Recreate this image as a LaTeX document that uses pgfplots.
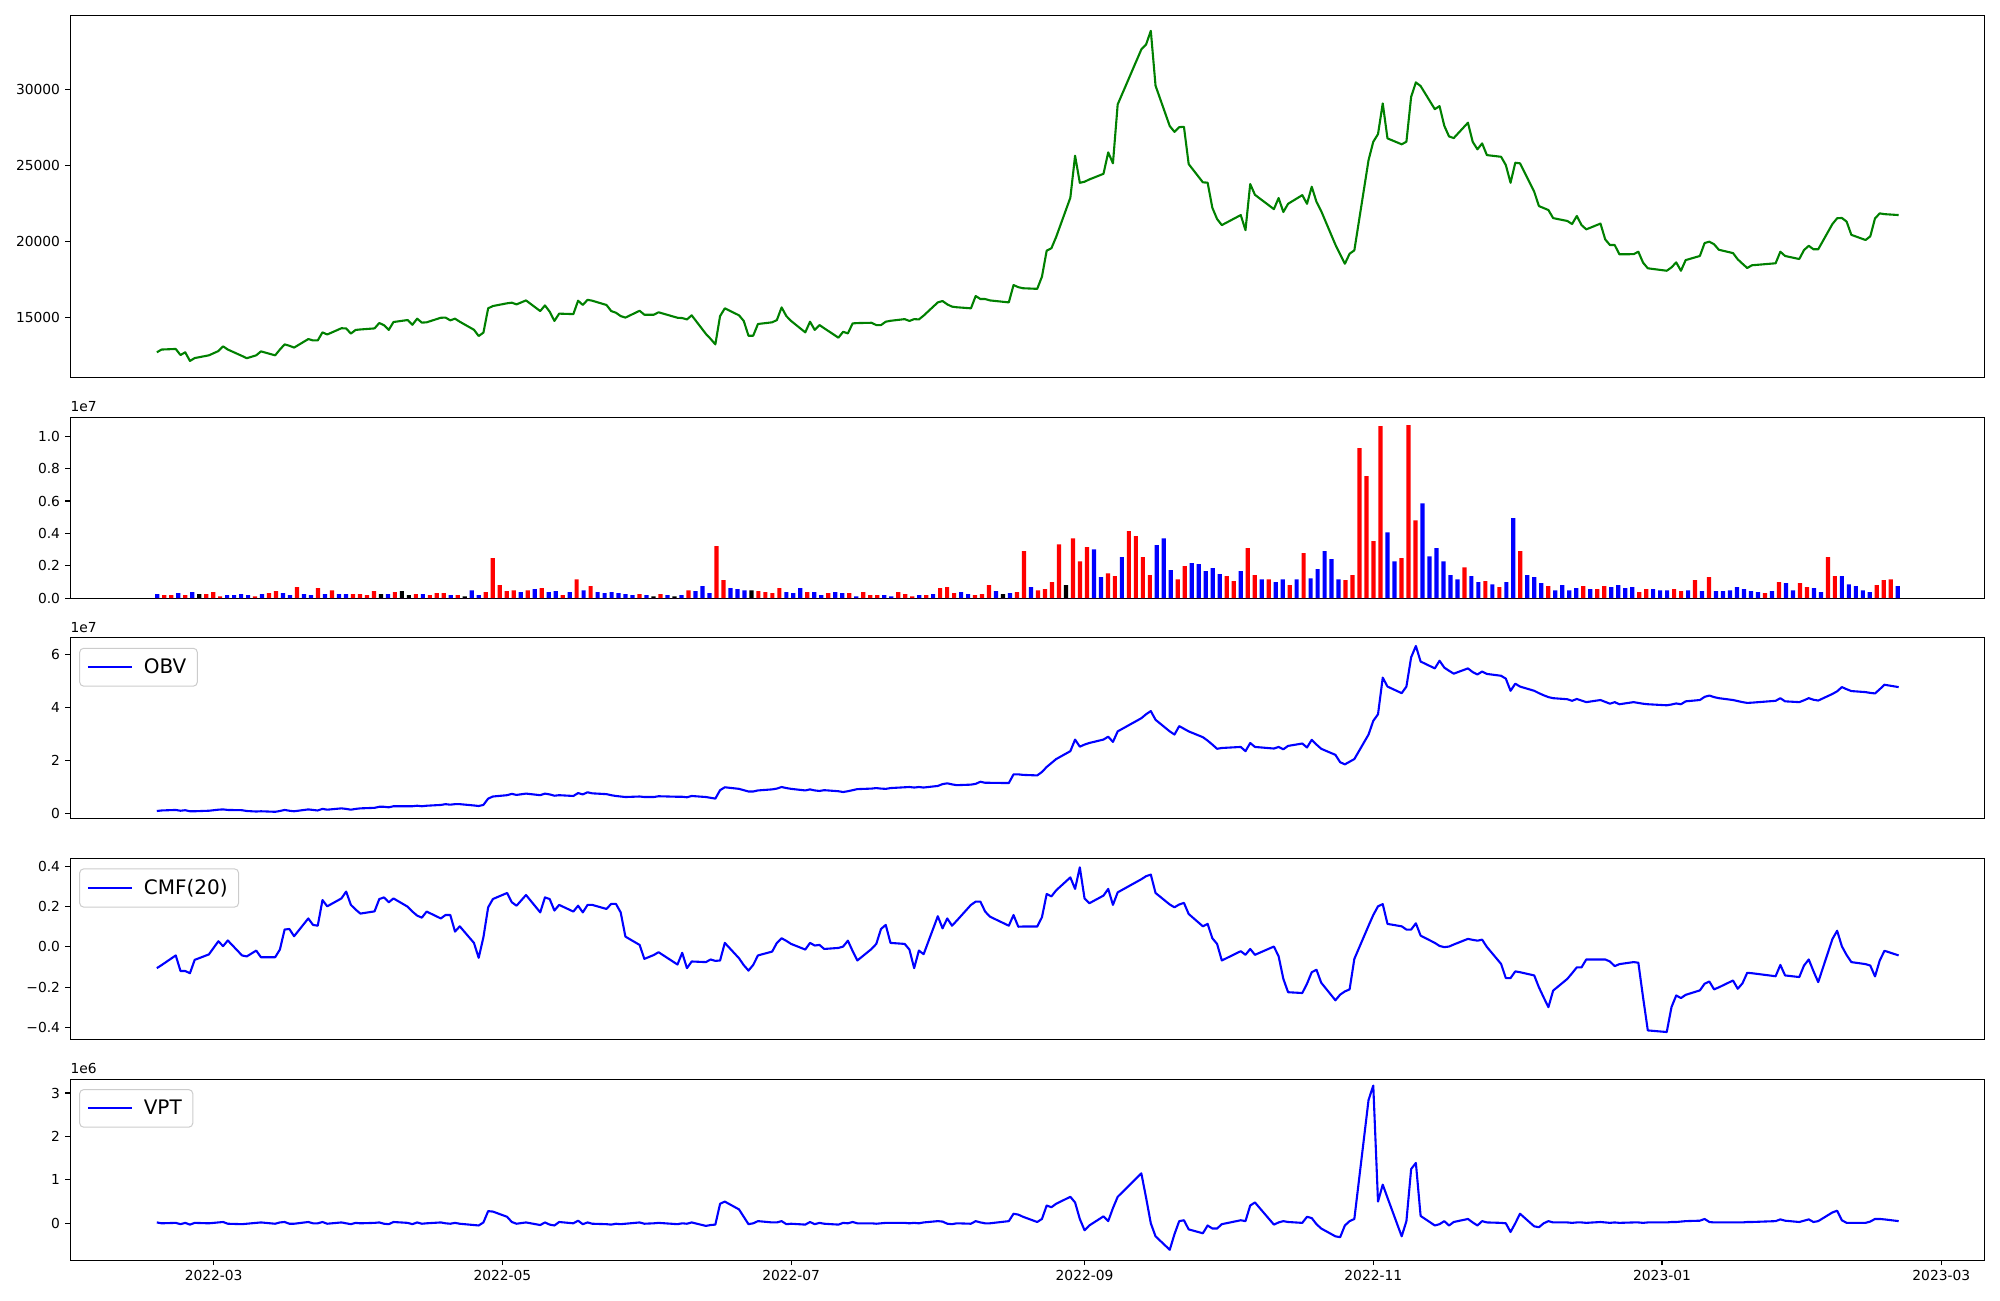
\documentclass[border=0pt]{standalone}
\usepackage{fontspec}
\setmainfont{DejaVu Sans}
\usepackage{pgfplots}
\usepackage{pgfplotstable}
\pgfplotsset{compat=1.18}
\definecolor{mplgreen}{HTML}{008000}
\definecolor{mplblue}{HTML}{0000FF}
\definecolor{mplred}{HTML}{FF0000}

\pgfplotstableread{
i d close vol c obv cmf vpt
0 -12 12720 0.25 2 0.08 -0.105 0.02
1 -11 12900 0.19 1 0.10 -0.090 0.00
2 -8 12940 0.19 1 0.12 -0.042 0.01
3 -7 12540 0.31 2 0.09 -0.119 -0.02
4 -6 12720 0.19 1 0.11 -0.119 0.01
5 -5 12150 0.37 2 0.07 -0.130 -0.03
6 -4 12340 0.25 0 0.07 -0.064 0.01
7 -1 12520 0.25 1 0.09 -0.037 0.00
8 1 12800 0.37 1 0.13 0.028 0.02
9 2 13110 0.12 1 0.14 0.004 0.03
10 3 12900 0.19 2 0.12 0.032 -0.01
11 6 12480 0.19 2 0.11 -0.042 -0.02
12 7 12330 0.25 2 0.08 -0.047 -0.01
13 9 12520 0.19 2 0.06 -0.018 0.01
14 10 12780 0.12 1 0.07 -0.051 0.02
15 13 12520 0.25 2 0.05 -0.051 -0.01
16 14 12900 0.31 1 0.08 -0.013 0.02
17 15 13240 0.43 1 0.12 0.086 0.03
18 16 13150 0.31 2 0.09 0.089 -0.01
19 17 13030 0.19 2 0.07 0.053 -0.01
20 20 13590 0.68 1 0.14 0.141 0.03
21 21 13500 0.25 2 0.12 0.109 0.00
22 22 13500 0.19 2 0.10 0.105 0.00
23 23 14030 0.62 1 0.16 0.232 0.03
24 24 13890 0.25 2 0.13 0.201 -0.01
25 27 14300 0.49 1 0.18 0.240 0.02
26 28 14290 0.25 2 0.16 0.274 0.00
27 29 13950 0.25 2 0.13 0.208 -0.02
28 30 14190 0.25 1 0.16 0.185 0.01
29 31 14220 0.25 1 0.18 0.165 0.00
30 34 14290 0.19 1 0.20 0.176 0.01
31 35 14645 0.43 1 0.24 0.237 0.02
32 36 14500 0.25 0 0.24 0.245 -0.01
33 37 14190 0.25 2 0.22 0.221 -0.02
34 38 14710 0.37 1 0.26 0.240 0.03
35 41 14840 0.43 0 0.26 0.199 0.01
36 42 14530 0.19 0 0.26 0.175 -0.02
37 43 14930 0.25 1 0.28 0.155 0.02
38 44 14670 0.25 2 0.26 0.145 -0.01
39 45 14690 0.19 1 0.28 0.175 0.00
40 48 14990 0.31 1 0.31 0.141 0.02
41 49 15000 0.31 1 0.34 0.158 0.00
42 50 14820 0.19 2 0.32 0.158 -0.01
43 51 14930 0.19 1 0.34 0.076 0.01
44 52 14730 0.12 0 0.34 0.102 -0.01
45 55 14200 0.49 2 0.29 0.020 -0.04
46 56 13790 0.19 2 0.27 -0.054 -0.05
47 57 14010 0.37 1 0.31 0.048 0.02
48 58 15610 2.47 1 0.55 0.196 0.28
49 59 15760 0.80 1 0.63 0.237 0.27
50 62 15940 0.43 1 0.68 0.267 0.15
51 63 15980 0.49 1 0.73 0.221 0.03
52 64 15870 0.37 2 0.69 0.204 -0.01
53 66 16130 0.49 1 0.74 0.257 0.02
54 69 15430 0.56 2 0.68 0.171 -0.04
55 70 15800 0.62 1 0.74 0.245 0.02
56 71 15390 0.37 2 0.71 0.237 -0.03
57 72 14780 0.43 2 0.66 0.180 -0.05
58 73 15260 0.19 1 0.68 0.208 0.03
59 76 15230 0.37 2 0.65 0.175 0.00
60 77 16110 1.17 1 0.76 0.204 0.06
61 78 15830 0.49 2 0.71 0.171 -0.02
62 79 16170 0.74 1 0.79 0.208 0.02
63 80 16110 0.37 2 0.75 0.208 -0.01
64 83 15830 0.31 2 0.72 0.188 -0.02
65 84 15430 0.37 2 0.68 0.213 -0.03
66 85 15320 0.31 2 0.65 0.213 -0.01
67 86 15100 0.25 2 0.63 0.171 -0.02
68 87 15000 0.19 2 0.61 0.051 -0.01
69 90 15450 0.25 1 0.63 0.010 0.02
70 91 15190 0.19 2 0.61 -0.059 -0.01
71 93 15190 0.12 0 0.61 -0.040 0.00
72 94 15350 0.25 1 0.64 -0.026 0.01
73 98 14990 0.19 2 0.62 -0.087 -0.02
74 99 14970 0.12 0 0.62 -0.029 0.00
75 100 14880 0.19 2 0.60 -0.105 -0.01
76 101 15150 0.49 1 0.65 -0.072 0.02
77 104 13930 0.43 2 0.61 -0.075 -0.06
78 105 13600 0.74 2 0.58 -0.062 -0.04
79 106 13240 0.31 2 0.55 -0.069 -0.03
80 107 15100 3.21 1 0.87 -0.067 0.45
81 108 15610 1.11 1 0.98 0.020 0.50
82 111 15150 0.62 2 0.92 -0.056 0.32
83 112 14780 0.56 2 0.87 -0.090 0.15
84 113 13810 0.49 2 0.82 -0.117 -0.02
85 114 13810 0.49 0 0.82 -0.089 0.00
86 115 14580 0.43 1 0.86 -0.042 0.05
87 118 14690 0.37 1 0.90 -0.023 0.02
88 119 14840 0.31 1 0.93 0.020 0.02
89 120 15670 0.62 1 0.99 0.043 0.05
90 121 15100 0.37 2 0.95 0.030 -0.02
91 122 14780 0.31 2 0.92 0.015 -0.01
92 125 14030 0.62 2 0.86 -0.013 -0.03
93 126 14730 0.37 1 0.90 0.020 0.03
94 127 14190 0.37 2 0.86 0.007 -0.02
95 128 14510 0.19 2 0.84 0.010 0.01
96 129 14300 0.31 1 0.87 -0.010 -0.01
97 132 13680 0.37 2 0.83 -0.005 -0.03
98 133 14070 0.31 2 0.80 0.002 0.01
99 134 13960 0.31 1 0.83 0.031 0.00
100 135 14620 0.12 2 0.87 -0.020 0.03
101 136 14640 0.37 1 0.91 -0.067 0.00
102 139 14660 0.19 1 0.93 -0.010 0.00
103 140 14510 0.19 1 0.95 0.015 -0.01
104 141 14510 0.19 2 0.93 0.089 0.00
105 142 14730 0.12 2 0.92 0.109 0.01
106 143 14790 0.37 1 0.95 0.020 0.01
107 146 14900 0.25 1 0.98 0.015 0.01
108 147 14780 0.12 1 0.99 -0.013 0.00
109 148 14900 0.19 2 0.97 -0.105 0.01
110 149 14880 0.19 1 0.99 -0.018 0.00
111 150 15130 0.25 2 0.97 -0.036 0.02
112 153 16000 0.62 1 1.03 0.152 0.05
113 154 16090 0.68 1 1.10 0.092 0.04
114 155 15870 0.31 1 1.13 0.141 -0.01
115 156 15720 0.37 2 1.09 0.105 -0.02
116 157 15680 0.25 2 1.06 0.130 0.00
117 160 15610 0.19 1 1.08 0.208 -0.01
118 161 16420 0.25 1 1.11 0.224 0.05
119 162 16220 0.80 1 1.19 0.224 0.02
120 163 16220 0.43 2 1.15 0.175 0.00
121 164 16130 0.25 0 1.15 0.150 0.00
122 168 16000 0.31 2 1.14 0.105 0.05
123 169 17140 0.37 1 1.47 0.158 0.22
124 170 17000 2.90 1 1.47 0.100 0.20
125 171 16930 0.68 2 1.45 0.101 0.15
126 174 16890 0.49 1 1.43 0.101 0.03
127 175 17690 0.56 1 1.56 0.147 0.10
128 176 19400 0.99 1 1.75 0.262 0.41
129 177 19560 3.33 1 1.90 0.250 0.37
130 178 20300 0.80 0 2.05 0.280 0.45
131 181 22880 3.70 1 2.35 0.344 0.61
132 182 25640 2.28 1 2.79 0.287 0.48
133 183 23860 3.15 1 2.52 0.394 0.10
134 184 23930 3.02 2 2.60 0.240 -0.16
135 185 24080 1.30 2 2.66 0.216 -0.05
136 188 24450 1.54 1 2.79 0.254 0.16
137 189 25860 1.36 1 2.90 0.287 0.05
138 190 25140 2.53 2 2.70 0.208 0.35
139 191 29010 4.14 1 3.10 0.270 0.61
140 196 32630 3.83 1 3.60 0.335 1.15
141 197 32950 2.53 1 3.75 0.350 0.59
142 198 33850 1.42 1 3.87 0.358 0.00
143 199 30240 3.27 2 3.54 0.267 -0.30
144 202 27590 3.70 2 3.10 0.210 -0.61
145 203 27210 1.73 2 2.98 0.196 -0.25
146 204 27520 1.17 1 3.30 0.210 0.05
147 205 27540 1.98 1 3.20 0.218 0.07
148 206 25090 2.16 2 3.10 0.163 -0.14
149 209 23890 2.10 2 2.88 0.102 -0.23
150 210 23870 1.67 2 2.75 0.114 -0.05
151 211 22220 1.85 2 2.60 0.043 -0.12
152 212 21480 1.48 2 2.44 0.015 -0.12
153 213 21080 1.36 1 2.47 -0.067 -0.02
154 217 21740 1.05 1 2.51 -0.021 0.07
155 218 20750 1.67 2 2.35 -0.039 0.05
156 219 23780 3.09 1 2.66 -0.010 0.41
157 220 23070 1.42 1 2.51 -0.039 0.48
158 224 22130 1.17 2 2.45 0.002 -0.03
159 225 22860 1.17 1 2.51 -0.046 0.02
160 226 21940 0.99 2 2.42 -0.158 0.05
161 227 22480 1.17 2 2.55 -0.224 0.03
162 230 23050 0.80 1 2.64 -0.228 0.01
163 231 22480 1.17 2 2.49 -0.182 0.15
164 232 23600 2.78 1 2.78 -0.125 0.12
165 233 22610 1.23 2 2.60 -0.113 -0.02
166 234 22000 1.79 2 2.44 -0.177 -0.12
167 237 19790 2.90 2 2.21 -0.264 -0.30
168 238 19160 2.41 2 1.93 -0.236 -0.32
169 239 18540 1.17 2 1.85 -0.220 -0.05
170 240 19200 1.11 1 1.95 -0.210 0.05
171 241 19420 1.42 1 2.05 -0.059 0.10
172 244 25350 9.26 1 2.98 0.105 2.84
173 245 26560 7.53 1 3.50 0.158 3.17
174 246 27060 3.52 1 3.75 0.201 0.50
175 247 29080 10.62 1 5.14 0.212 0.89
176 248 26780 4.07 2 4.80 0.114 0.59
177 251 26390 2.28 2 4.55 0.102 -0.30
178 252 26560 2.47 1 4.80 0.086 0.05
179 253 29510 10.68 1 5.91 0.086 1.25
180 254 30460 4.81 1 6.34 0.117 1.39
181 255 30220 5.86 2 5.75 0.056 0.17
182 258 28700 2.59 2 5.49 0.020 -0.05
183 259 28900 3.09 2 5.78 0.005 -0.02
184 260 27610 2.28 2 5.52 -0.001 0.05
185 261 26910 1.42 2 5.40 0.002 -0.05
186 262 26800 1.17 2 5.29 0.012 0.03
187 265 27810 1.91 1 5.49 0.040 0.10
188 266 26560 1.36 2 5.35 0.035 0.02
189 267 26060 0.99 2 5.26 0.031 -0.05
190 268 26450 1.05 1 5.37 0.036 0.05
191 269 25680 0.86 2 5.28 0.000 0.02
192 272 25570 0.68 1 5.21 -0.084 0.01
193 273 25030 0.99 2 5.10 -0.154 0.00
194 274 23860 4.94 2 4.64 -0.154 -0.20
195 275 25180 2.90 1 4.91 -0.121 0.00
196 276 25140 1.42 2 4.80 -0.125 0.22
197 279 23270 1.30 2 4.64 -0.141 -0.07
198 280 22330 0.93 2 4.55 -0.200 -0.09
199 281 22200 0.74 1 4.47 -0.250 0.00
200 282 22070 0.49 2 4.40 -0.298 0.05
201 283 21540 0.80 2 4.36 -0.216 0.02
202 286 21350 0.49 2 4.32 -0.158 0.02
203 287 21150 0.62 2 4.26 -0.130 0.01
204 288 21680 0.74 1 4.33 -0.101 0.02
205 289 21080 0.56 2 4.27 -0.101 0.02
206 290 20800 0.56 1 4.21 -0.062 0.01
207 293 21180 0.74 1 4.29 -0.062 0.03
208 294 20140 0.68 2 4.22 -0.062 0.02
209 295 19770 0.80 2 4.15 -0.072 0.01
210 296 19770 0.62 2 4.21 -0.095 0.02
211 297 19160 0.68 2 4.13 -0.085 0.01
212 300 19170 0.37 1 4.21 -0.075 0.02
213 301 19330 0.56 1 4.18 -0.078 0.02
214 302 18610 0.56 2 4.15 -0.250 0.01
215 303 18240 0.49 2 4.13 -0.413 0.02
216 307 18080 0.49 2 4.09 -0.421 0.02
217 308 18300 0.56 1 4.12 -0.298 0.03
218 309 18630 0.43 1 4.16 -0.240 0.03
219 310 18080 0.49 2 4.13 -0.253 0.04
220 311 18780 1.11 1 4.24 -0.237 0.05
221 314 19050 0.43 2 4.29 -0.215 0.06
222 315 19900 1.30 1 4.41 -0.182 0.10
223 316 19990 0.43 2 4.46 -0.171 0.03
224 317 19820 0.43 2 4.40 -0.210 0.02
225 318 19460 0.49 2 4.36 -0.200 0.02
226 321 19240 0.68 2 4.29 -0.166 0.02
227 322 18830 0.56 2 4.25 -0.207 0.02
228 323 18540 0.43 2 4.21 -0.180 0.02
229 324 18260 0.37 2 4.18 -0.128 0.03
230 325 18440 0.31 1 4.19 -0.130 0.03
231 330 18570 0.43 2 4.26 -0.145 0.05
232 331 19330 0.99 1 4.36 -0.089 0.09
233 332 19050 0.93 2 4.24 -0.141 0.06
234 335 18850 0.49 2 4.21 -0.149 0.03
235 336 19440 0.93 1 4.28 -0.092 0.06
236 337 19720 0.68 1 4.36 -0.062 0.09
237 338 19490 0.62 2 4.30 -0.120 0.03
238 339 19490 0.37 2 4.27 -0.174 0.05
239 342 21150 2.53 1 4.52 0.039 0.25
240 343 21530 1.36 1 4.62 0.080 0.29
241 344 21550 1.36 2 4.78 0.003 0.07
242 345 21310 0.86 2 4.70 -0.040 0.01
243 346 20440 0.74 2 4.63 -0.075 0.01
244 349 20100 0.49 2 4.59 -0.085 0.01
245 350 20340 0.37 2 4.56 -0.092 0.04
246 351 21520 0.80 1 4.54 -0.146 0.10
247 352 21850 1.11 1 4.70 -0.067 0.10
248 353 21800 1.17 1 4.87 -0.019 0.09
249 356 21740 0.74 2 4.78 -0.042 0.05
}\data

\pgfplotsset{
  panel/.style={
    scale only axis, width=957.3pt, anchor=north west,
    xmin=-30.3, xmax=374.2,
    axis line style={line width=0.55pt},
    every tick/.style={line width=0.55pt, black},
    tick align=outside, major tick length=2.45pt,
    xtick pos=bottom, ytick pos=left,
    xtick=\empty,
    ticklabel style={font=\fontsize{6.9}{8}\selectfont},
    yticklabel style={inner sep=0pt, xshift=-2.45pt},
    xticklabel style={inner sep=0pt, yshift=-2.45pt},
    scaled y ticks=false,
    legend cell align=left,
    legend style={at={(0,1)}, anchor=north west, xshift=4.5pt, yshift=-5pt,
      draw=black!20, rounded corners=2pt, fill=white,
      font=\fontsize{10}{12}\selectfont, inner xsep=3.5pt, inner ysep=3pt,
      line width=0.5pt,
      /tikz/every odd column/.append style={column sep=3.5pt}},
    legend image code/.code={\draw[#1] (0pt,0pt) -- (22pt,0pt);},
  },
  volbar/.style={ybar, bar width=0.6, bar shift=0pt, draw=none},
}

\begin{document}
\begin{tikzpicture}
\path[use as bounding box] (0,0) rectangle (1000pt,-650pt);

% price
\begin{axis}[panel, at={(35.1pt,-7.65pt)}, height=181.2pt,
  ymin=11050, ymax=34870,
  ytick={15000,20000,25000,30000},
  yticklabels={15000,20000,25000,30000}]
\addplot[mplgreen, line width=1.05pt, line join=round] table[x=d, y=close]{\data};
\end{axis}

% volume
\begin{axis}[panel, name=vol, at={(35.1pt,-208.55pt)}, height=90.55pt,
  xmin=-12.45, xmax=261.45,
  ymin=0, ymax=11.18,
  ytick={0,2,4,6,8,10},
  yticklabels={0.0,0.2,0.4,0.6,0.8,1.0}]
\addplot[volbar, fill=mplred] table[x=i, y expr={\thisrow{c}==1 ? \thisrow{vol} : 0}]{\data};
\addplot[volbar, fill=mplblue] table[x=i, y expr={\thisrow{c}==2 ? \thisrow{vol} : 0}]{\data};
\addplot[volbar, fill=black] table[x=i, y expr={\thisrow{c}==0 ? \thisrow{vol} : 0}]{\data};
\end{axis}
\node[anchor=south west, inner sep=0pt, font=\fontsize{6.9}{8}\selectfont] at ([yshift=2.5pt]vol.north west) {1e7};

% OBV
\begin{axis}[panel, name=obv, at={(35.1pt,-318.9pt)}, height=90.55pt,
  ymin=-0.22, ymax=6.65,
  ytick={0,2,4,6}, yticklabels={0,2,4,6}]
\addplot[mplblue, line width=1.05pt, line join=round] table[x=d, y=obv]{\data};
\addlegendentry{OBV}
\end{axis}
\node[anchor=south west, inner sep=0pt, font=\fontsize{6.9}{8}\selectfont] at ([yshift=2.5pt]obv.north west) {1e7};

% CMF
\begin{axis}[panel, at={(35.1pt,-429.2pt)}, height=90.55pt,
  ymin=-0.458, ymax=0.438,
  ytick={-0.4,-0.2,0,0.2,0.4},
  yticklabels={−0.4,−0.2,0.0,0.2,0.4}]
\addplot[mplblue, line width=1.05pt, line join=round] table[x=d, y=cmf]{\data};
\addlegendentry{CMF(20)}
\end{axis}

% VPT
\begin{axis}[panel, name=vpt, at={(35.1pt,-539.55pt)}, height=90.55pt,
  ymin=-0.85, ymax=3.32,
  ytick={0,1,2,3}, yticklabels={0,1,2,3},
  xtick={0,61,122,184,245,306,365},
  xticklabels={2022-03,2022-05,2022-07,2022-09,2022-11,2023-01,2023-03}]
\addplot[mplblue, line width=1.05pt, line join=round] table[x=d, y=vpt]{\data};
\addlegendentry{VPT}
\end{axis}
\node[anchor=south west, inner sep=0pt, font=\fontsize{6.9}{8}\selectfont] at ([yshift=2.5pt]vpt.north west) {1e6};
\end{tikzpicture}
\end{document}
